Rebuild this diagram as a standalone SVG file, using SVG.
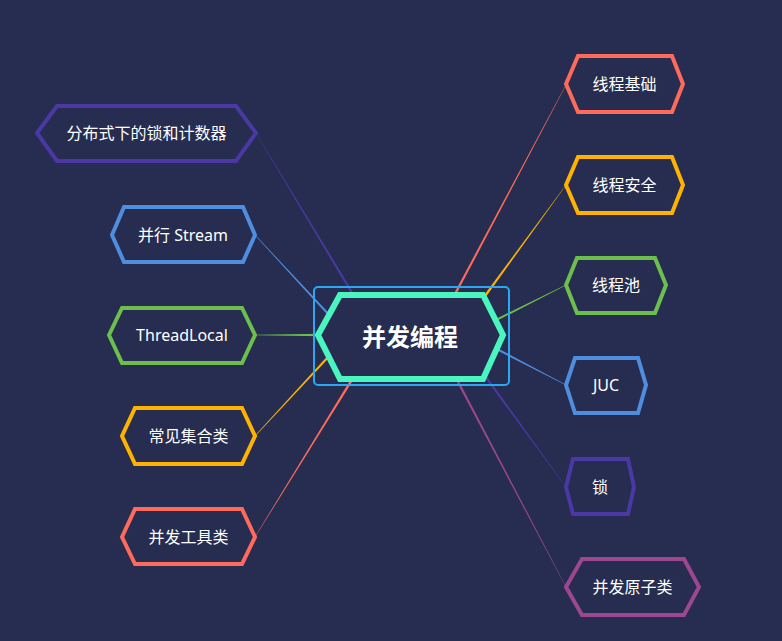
<svg xmlns="http://www.w3.org/2000/svg" width="782" height="641" viewBox="0 0 782 641">
<style>
.hex{fill:#262d50;stroke-width:4;stroke-linejoin:miter}
.lbl{fill:#ffffff;font-family:"Noto Sans","Noto Sans CJK SC",sans-serif;font-size:16px;text-anchor:middle;dominant-baseline:central}
.root{fill:#ffffff;font-family:"Noto Sans CJK SC","Noto Sans",sans-serif;font-size:24px;font-weight:bold;text-anchor:middle;dominant-baseline:central}
.c-purple{stroke:#4a38a3}.c-blue{stroke:#4f8ede}.c-green{stroke:#6cbf4c}.c-yellow{stroke:#ffb300}.c-red{stroke:#ff6b5a}.c-mag{stroke:#9c4790}
.f-purple{fill:#4a38a3}.f-blue{fill:#4f8ede}.f-green{fill:#6cbf4c}.f-yellow{fill:#ffb300}.f-red{fill:#ff6b5a}.f-mag{fill:#9c4790}
</style>
<rect x="0" y="0" width="782" height="641" fill="#262d50"/>
<g id="connectors">
<polygon class="f-purple" points="355.03,295.38 256.17,132.90 255.83,133.10 352.97,296.62"/>
<polygon class="f-blue" points="331.88,316.18 255.15,234.86 254.85,235.14 330.12,317.82"/>
<polygon class="f-green" points="322,333.8 256,334.8 256,335.2 322,336.2"/>
<polygon class="f-yellow" points="329.12,354.19 254.85,435.86 255.15,436.14 330.88,355.81"/>
<polygon class="f-red" points="351.98,377.37 254.83,536.9 255.17,537.1 354.02,378.63"/>
<polygon class="f-red" points="455.06,296.56 567.18,83.09 566.82,82.91 452.94,295.44"/>
<polygon class="f-yellow" points="485.97,296.71 566.16,185.12 565.84,184.88 484.03,295.29"/>
<polygon class="f-green" points="494.54,322.07 566.09,285.18 565.91,284.82 493.46,319.93"/>
<polygon class="f-blue" points="494.45,349.06 565.91,385.18 566.09,384.82 495.55,346.94"/>
<polygon class="f-purple" points="484.03,376.71 565.84,487.12 566.16,486.88 485.97,375.29"/>
<polygon class="f-mag" points="454.94,378.56 565.82,587.09 566.18,586.91 457.06,377.44"/>
</g>
<g id="node-root">
<rect x="314" y="287" width="195" height="98" rx="4" fill="none" stroke="#2aa9f2" stroke-width="2"/>
<polygon points="318,335 340,295 483,295 503,335 483,379 340,379" fill="#262d50" stroke="#4af5bf" stroke-width="6"/>
<text class="root" x="410" y="335">并发编程</text>
</g>
<g id="node-distributed">
<polygon class="hex c-purple" points="37,133 57,106 236,106 256,133 236,161 57,161"/>
<text class="lbl" x="146.5" y="133">分布式下的锁和计数器</text>
</g>
<g id="node-stream">
<polygon class="hex c-blue" points="112,235 124,207 243,207 255,235 243,262 124,262"/>
<text class="lbl" x="183" y="235">并行 Stream</text>
</g>
<g id="node-threadlocal">
<polygon class="hex c-green" points="109,335 122,308 242,308 255,335 242,363 122,363"/>
<text class="lbl" x="182" y="335">ThreadLocal</text>
</g>
<g id="node-collections">
<polygon class="hex c-yellow" points="122,436 135,408 242,408 255,436 242,464 135,464"/>
<text class="lbl" x="188.5" y="436">常见集合类</text>
</g>
<g id="node-tools">
<polygon class="hex c-red" points="122,537 135,509 242,509 255,537 242,564 135,564"/>
<text class="lbl" x="188.5" y="537">并发工具类</text>
</g>
<g id="node-basics">
<polygon class="hex c-red" points="566,84 578,56 672,56 683,84 672,112 578,112"/>
<text class="lbl" x="624.5" y="84">线程基础</text>
</g>
<g id="node-safety">
<polygon class="hex c-yellow" points="566,185 578,157 672,157 683,185 672,213 578,213"/>
<text class="lbl" x="624.5" y="185">线程安全</text>
</g>
<g id="node-pool">
<polygon class="hex c-green" points="566,285 577,258 655,258 666,285 655,313 577,313"/>
<text class="lbl" x="616" y="285">线程池</text>
</g>
<g id="node-juc">
<polygon class="hex c-blue" points="566,385 575,358 638,358 646,385 638,413 575,413"/>
<text class="lbl" x="606" y="385">JUC</text>
</g>
<g id="node-lock">
<polygon class="hex c-purple" points="566,487 573,459 628,459 634,487 628,514 573,514"/>
<text class="lbl" x="600" y="487">锁</text>
</g>
<g id="node-atomic">
<polygon class="hex c-mag" points="566,587 582,559 684,559 699,587 684,615 582,615"/>
<text class="lbl" x="632.5" y="587">并发原子类</text>
</g>
</svg>
